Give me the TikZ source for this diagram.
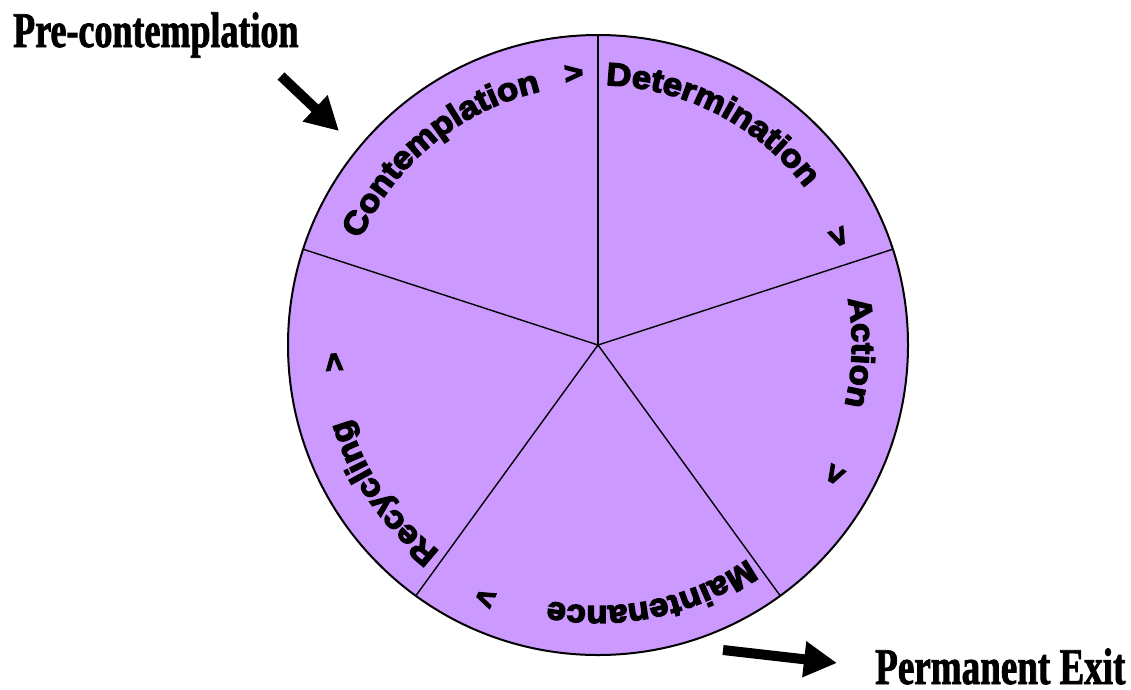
\documentclass[tikz,border=0pt]{standalone}
\usepackage{fontspec}
\usetikzlibrary{decorations.text,arrows.meta}
\newfontfamily\wheelfont{Liberation Sans Bold}[FakeBold=4.5,FakeStretch=1.08]
\newfontfamily\titlefont{Liberation Serif Bold}[FakeStretch=0.72,FakeBold=1.5]
\definecolor{wheelfill}{HTML}{CC99FF}
\tikzset{
  spoke/.style={line width=1.4pt},
  rim/.style={line width=2pt, fill=wheelfill},
  fat arrow/.style={line width=10pt, -{Triangle[length=33pt,width=34pt]}},
  chev/.style={font=\wheelfont\fontsize{30}{30}\selectfont, inner sep=0pt},
  title/.style={anchor=base west, inner sep=0pt},
}
\newcommand\arclabel[3]{%
  \path[decorate, decoration={text along path, text format delimiters={|}{|},
    text={|\wheelfont\fontsize{32}{32}\selectfont|#3}}]
    (#1:#2) arc[start angle=#1, end angle=#1-80, radius=#2];}
\begin{document}
\begin{tikzpicture}[x=1pt,y=1pt]
\useasboundingbox (0,0) rectangle (1131,-689);
\coordinate (O) at (598,-345);
\draw[rim] (O) circle[radius=310];
\foreach \a in {90,18,-54,-126,162} \draw[spoke] (O) -- ++(\a:310);
\begin{scope}[shift={(598,-345)}]
  \arclabel{156}{260}{Contemplation}
  \arclabel{88.3}{260}{Determination}
  \arclabel{10.5}{254}{Action}
  \arclabel{-55}{261}{Maintenance}
  \arclabel{-127.5}{260}{Recycling}
  \node[chev, rotate=5.1]   (c1) at (95.1:272)  {>};
  \node[chev, rotate=-65.8] (c2) at (24.2:263)  {>};
  \node[chev, rotate=-118.7](c3) at (-28.7:269) {>};
  \node[chev, rotate=-204]  (c4) at (-114:276)  {>};
  \node[chev, rotate=-266.3](c5) at (-176.3:263.5) {>};
\end{scope}
\node[title, font=\titlefont\fontsize{50}{50}\selectfont] (pre) at (13,-47) {Pre-contemplation};
\node[title, font=\titlefont\fontsize{51.5}{51.5}\selectfont] (exit) at (875,-684) {Permanent Exit};
\coordinate (a1s) at (281,-76);
\coordinate (a1e) at (339,-131);
\coordinate (a2s) at (723,-650);
\coordinate (a2e) at (837,-663);
\draw[fat arrow] (a1s) -- (a1e);
\draw[fat arrow] (a2s) -- (a2e);
\end{tikzpicture}
\end{document}
